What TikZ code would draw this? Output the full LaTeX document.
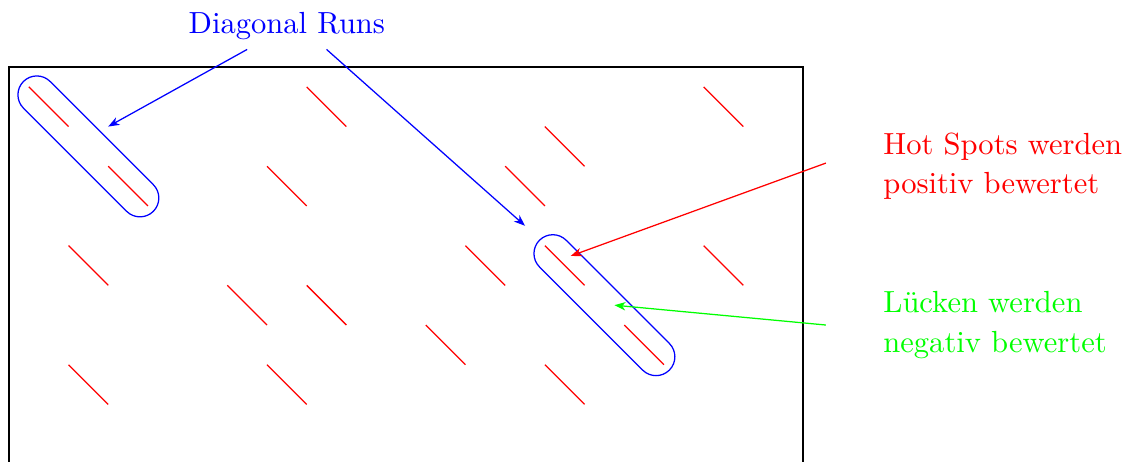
\documentclass[tikz,border=0pt]{standalone}
\usetikzlibrary{arrows.meta}
\begin{document}
\begin{tikzpicture}[x=0.5cm,y=-0.5cm,
  hit/.style={red,line width=0.45pt},
  runbox/.style={draw=blue,line width=0.45pt,inner sep=0pt,rotate=-45,
    minimum width=2.3135cm,minimum height=0.475cm,rounded corners=0.2375cm},
  lab/.style={font=\fontsize{10.95}{14.1}\selectfont},
  conn/.style={line width=0.45pt,-{Stealth[length=4pt,width=3pt,inset=1.2pt]}}]
\useasboundingbox (-0.2267,-1.688) rectangle (28.19,9.95);
% frame
\draw[line width=0.85pt] (0,0) rectangle (20,10);
% hits
\foreach \x/\y in {0.5/0.5, 7.5/0.5, 17.5/0.5, 13.5/1.5, 2.5/2.5, 6.5/2.5,
  12.5/2.5, 1.5/4.5, 11.5/4.5, 13.5/4.5, 17.5/4.5, 5.5/5.5, 7.5/5.5,
  10.5/6.5, 15.5/6.5, 1.5/7.5, 6.5/7.5, 13.5/7.5}
  \draw[hit] (\x,\y) -- ++(1,1);
% diagonal runs
\node[runbox] (run1) at (2,2) {};
\node[runbox] (run2) at (15,6) {};
% labels
\node[lab,text=blue,anchor=base] (dr) at (7,-0.85) {Diagonal Runs};
\node[lab,text=red,anchor=west,align=left] (hs) at (21.78,2.5) {Hot Spots werden\\positiv bewertet};
\node[lab,text=green,anchor=west,align=left] (lk) at (21.78,6.5) {L\"ucken werden\\negativ bewertet};
% arrow targets
\coordinate (t1) at (2.5,1.5);
\coordinate (t2) at (13,4);
\coordinate (tr) at (14.15,4.76);
\coordinate (tg) at (15.25,6.0);
% connectors
\draw[conn,blue] ([xshift=-0.5cm]dr.south) -- (t1);
\draw[conn,blue] ([xshift=0.5cm]dr.south) -- (t2);
\draw[conn,red] ([xshift=-0.6cm,yshift=0.04cm]hs.west) -- (tr);
\draw[conn,green] ([xshift=-0.6cm]lk.west) -- (tg);
\end{tikzpicture}
\end{document}
